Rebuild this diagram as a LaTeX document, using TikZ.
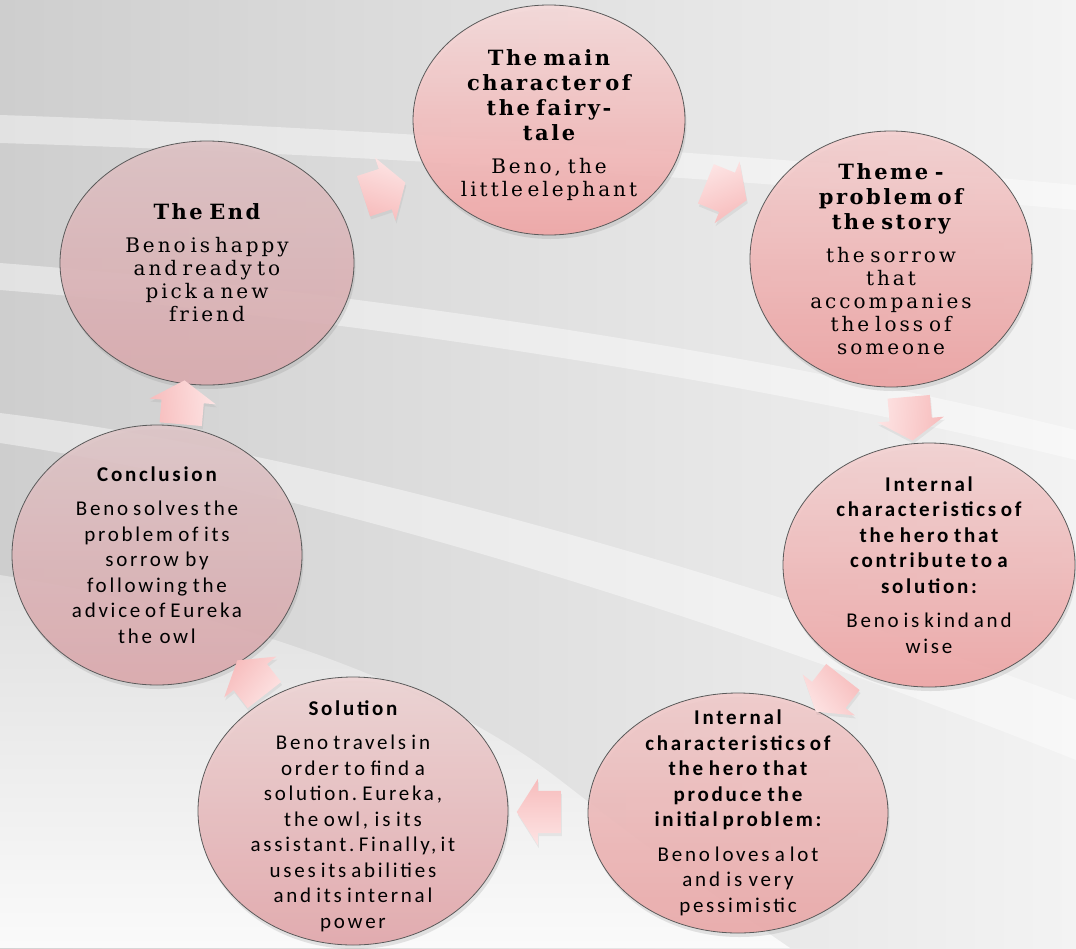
\documentclass[tikz,border=0pt]{standalone}
\usepackage{fontspec}
\usetikzlibrary{shapes.geometric,shapes.arrows,shadows,calc}
\newfontfamily\slabT[LetterSpace=12]{DejaVu Serif}
\newfontfamily\slabB[LetterSpace=15]{DejaVu Serif}
\newfontfamily\calT[LetterSpace=13]{Carlito}
\newfontfamily\calB[LetterSpace=13]{Carlito}
\newcommand\MySp{\spaceskip=0.12em plus 0.05em\xspaceskip=0.14em plus 0.05em}
\newcommand\MyTitleSlab[1]{{\slabT\bfseries\fontsize{21}{25}\selectfont\MySp #1\par}\vspace{10pt}}
\newcommand\MyBodySlab[1]{{\slabB\fontsize{20}{23}\selectfont\MySp #1\par}}
\newcommand\MyTitleSans[1]{{\calT\bfseries\fontsize{21}{25.5}\selectfont\MySp #1\par}\vspace{9pt}}
\newcommand\MyBodySans[1]{{\calB\fontsize{21}{25.5}\selectfont\MySp #1\par}}
\definecolor{bgL}{RGB}{206,206,206}
\definecolor{bgR}{RGB}{243,243,243}
\definecolor{bgDa}{RGB}{224,224,224}
\definecolor{bgDb}{RGB}{250,250,250}
\definecolor{rim}{RGB}{90,90,90}
\definecolor{arrTop}{RGB}{253,228,228}
\definecolor{arrBot}{RGB}{247,188,188}
\definecolor{mainT}{RGB}{246,218,218}\definecolor{mainB}{RGB}{241,166,166}
\definecolor{themeT}{RGB}{244,208,208}\definecolor{themeB}{RGB}{237,161,161}
\definecolor{intaT}{RGB}{243,210,210}\definecolor{intaB}{RGB}{238,164,164}
\definecolor{intbT}{RGB}{241,204,204}\definecolor{intbB}{RGB}{235,168,168}
\definecolor{solT}{RGB}{238,212,212}\definecolor{solB}{RGB}{226,166,170}
\definecolor{conT}{RGB}{222,198,200}\definecolor{conB}{RGB}{219,168,172}
\definecolor{endT}{RGB}{222,194,196}\definecolor{endB}{RGB}{218,170,174}
\begin{document}
\begin{tikzpicture}[x=1pt,y=-1pt,
  bubble/.style 2 args={ellipse, draw=rim, line width=0.8pt, top color=#1, bottom color=#2,
    fill opacity=0.9, draw opacity=1,
    drop shadow={shadow xshift=1.5pt, shadow yshift=-4pt, opacity=0.2}},
  stext/.style={text width=260pt, align=center, inner sep=0pt, text=black},
  cyclearrow/.style={single arrow, draw=none, minimum height=44pt, inner xsep=0pt, inner ysep=21pt,
    single arrow head extend=12pt, single arrow tip angle=115, rotate=#1,
    top color=arrTop, bottom color=arrBot, shading angle=-#1,
    drop shadow={shadow xshift=1pt, shadow yshift=-3pt, opacity=0.12}},
  band/.style={fill=white, fill opacity=0.42, draw=none}
]
\useasboundingbox (0,0) rectangle (1076,948);
% background
\shade[left color=bgL, right color=bgR] (0,0) rectangle (1076,948);
\shade[top color=bgDa, bottom color=bgDb] (0,575) .. controls (220,610) and (430,680) .. (560,780)
  .. controls (650,850) and (720,900) .. (790,948) -- (0,948) -- cycle;
\fill[band] (0,115) .. controls (300,125) and (700,150) .. (1076,185)
  -- (1076,210) .. controls (700,175) and (300,152) .. (0,143) -- cycle;
\fill[band] (0,263) .. controls (350,290) and (750,350) .. (1076,430)
  -- (1076,460) .. controls (750,380) and (350,318) .. (0,290) -- cycle;
\fill[band] (0,413) .. controls (300,450) and (700,560) .. (1076,700)
  -- (1076,760) .. controls (700,610) and (300,488) .. (0,443) -- cycle;

% circles
\node[bubble={mainT}{mainB}, minimum width=272pt, minimum height=230pt] (main) at (549,120) {};
\node[bubble={themeT}{themeB}, minimum width=282pt, minimum height=256pt] (theme) at (891,259) {};
\node[bubble={intaT}{intaB}, minimum width=292pt, minimum height=244pt] (inta) at (929,565) {};
\node[bubble={intbT}{intbB}, minimum width=300pt, minimum height=240pt] (intb) at (738,813) {};
\node[bubble={solT}{solB}, minimum width=310pt, minimum height=268pt] (sol) at (353,811) {};
\node[bubble={conT}{conB}, minimum width=290pt, minimum height=260pt] (con) at (157,555) {};
\node[bubble={endT}{endB}, minimum width=294pt, minimum height=244pt] (end) at (207,263) {};

% texts
\node[stext] (mainTxt) at ([yshift=-5pt]main.center) {\MyTitleSlab{The main\\character of\\the fairy-\\tale}\MyBodySlab{Beno, the\\little elephant}};
\node[stext] (themeTxt) at (theme.center) {\MyTitleSlab{Theme -\\problem of\\the story}\MyBodySlab{the sorrow\\that\\accompanies\\the loss of\\someone}};
\node[stext] (endTxt) at (end.center) {\MyTitleSlab{The End}\MyBodySlab{Beno is happy\\and ready to\\pick a new\\friend}};
\node[stext] (intaTxt) at (inta.center) {\MyTitleSans{Internal\\characteristics of\\the hero that\\contribute to a\\solution:}\MyBodySans{Beno is kind and\\wise}};
\node[stext] (intbTxt) at (intb.center) {\MyTitleSans{Internal\\characteristics of\\the hero that\\produce the\\initial problem:}\MyBodySans{Beno loves a lot\\and is very\\pessimistic}};
\node[stext] (solTxt) at ([yshift=-5pt]sol.center) {\MyTitleSans{Solution}\MyBodySans{Beno travels in\\order to find a\\solution. Eureka,\\the owl, is its\\assistant. Finally, it\\uses its abilities\\and its internal\\power}};
\node[stext] (conTxt) at (con.center) {\MyTitleSans{Conclusion}\MyBodySans{Beno solves the\\problem of its\\sorrow by\\following the\\advice of Eureka\\the owl}};

% arrows
\node[cyclearrow=18] (a1) at ($(end)!0.5!(main)$) {};
\node[cyclearrow=-22] (a2) at ($(main)!0.5!(theme)$) {};
\node[cyclearrow=-85] (a3) at ($(theme)!0.5!(inta)$) {};
\node[cyclearrow=-128] (a4) at ($(inta)!0.5!(intb)$) {};
\node[cyclearrow=180] (a5) at ($(intb)!0.5!(sol)$) {};
\node[cyclearrow=128] (a6) at ($(sol)!0.5!(con)$) {};
\node[cyclearrow=85] (a7) at ($(con)!0.5!(end)$) {};
\end{tikzpicture}
\end{document}
